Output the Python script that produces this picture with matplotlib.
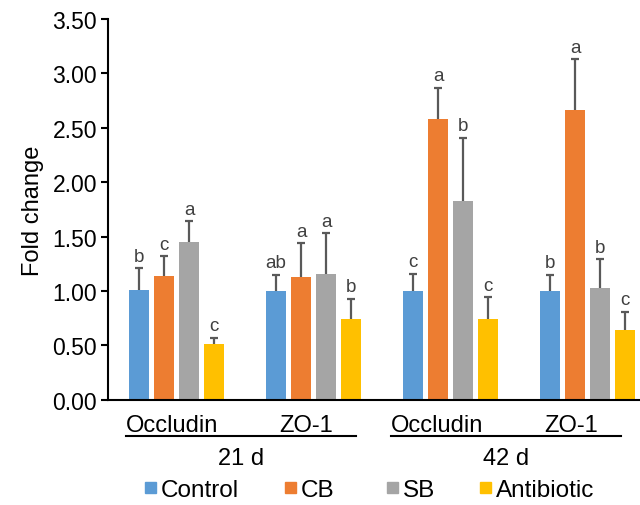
import matplotlib
matplotlib.use('Agg')
import matplotlib.pyplot as plt
from matplotlib.patches import Rectangle
import numpy as np

plt.rcParams['font.family'] = ['Liberation Sans', 'DejaVu Sans']

# data
genes = ['Occludin', 'ZO-1', 'Occludin', 'ZO-1']
ages = ['21 d', '42 d']
series = ['Control', 'CB', 'SB', 'Antibiotic']
colors = ['#5B9BD5', '#ED7D31', '#A5A5A5', '#FFC000']

control = [1.01, 1.00, 1.00, 1.00]
cb = [1.14, 1.13, 2.58, 2.66]
sb = [1.45, 1.16, 1.83, 1.03]
antibiotic = [0.51, 0.74, 0.74, 0.64]

control_err = [0.20, 0.15, 0.16, 0.15]
cb_err = [0.18, 0.31, 0.29, 0.47]
sb_err = [0.19, 0.37, 0.58, 0.26]
antibiotic_err = [0.06, 0.19, 0.20, 0.17]

control_sig = ['b', 'ab', 'c', 'b']
cb_sig = ['c', 'a', 'a', 'a']
sb_sig = ['a', 'a', 'b', 'b']
antibiotic_sig = ['c', 'b', 'c', 'c']

values = [control, cb, sb, antibiotic]
errors = [control_err, cb_err, sb_err, antibiotic_err]
letters = [control_sig, cb_sig, sb_sig, antibiotic_sig]

W, H = 640, 506
fig = plt.figure(figsize=(W / 100, H / 100), dpi=100)
ax = fig.add_axes([108 / W, 1 - 400.7 / H, 532 / W, 380.7 / H])

x = np.arange(len(genes))
pitch = 25 / 137
width = 20 / 137
for i, (vals, errs, sig) in enumerate(zip(values, errors, letters)):
    pos = x + (i - 1.5) * pitch
    ax.bar(pos, vals, width=width, color=colors[i], zorder=2)
    eb = ax.errorbar(pos, vals, yerr=[np.zeros(len(vals)), errs], fmt='none',
                     ecolor='#595959', elinewidth=1.6, capsize=2.6, capthick=1.6, zorder=3)
    eb[1][0].set_visible(False)  # no cap at the bar top
    for p, v, e, s in zip(pos, vals, errs, sig):
        ax.text(p, v + e + 0.03, s, ha='center', va='bottom', fontsize=13.5, color='#404040')

ax.set_xlim(-0.5, 3.38)
ax.set_ylim(0, 3.5)
ax.set_yticks(np.arange(0, 3.51, 0.5))
ax.set_yticklabels(['{:.2f}'.format(t) for t in np.arange(0, 3.51, 0.5)], fontsize=16.5)
ax.set_xticks([])
ax.spines['top'].set_visible(False)
ax.spines['right'].set_visible(False)
for s in ['left', 'bottom']:
    ax.spines[s].set_linewidth(1.5)
ax.tick_params(axis='y', length=5, width=1.5, pad=3)
ax.set_ylabel('Fold change', fontsize=17, labelpad=6)

# group labels below the axis (pixel positions from the reference)
gene_x = [171.7, 305.8, 437.5, 570.8]
for gx, g in zip(gene_x, genes):
    fig.text(gx / W, 1 - 431.7 / H, g, ha='center', va='baseline', fontsize=17)
for (x0, x1), a in zip([(126, 356), (391, 621)], ages):
    fig.add_artist(plt.Line2D([x0 / W, x1 / W], [1 - 437.3 / H] * 2, color='black', lw=1.5))
    fig.text((x0 + x1) / 2 / W, 1 - 465 / H, a, ha='center', va='baseline', fontsize=17)

# legend row
leg_x = [145, 285, 387, 480]
for lx, name, c in zip(leg_x, series, colors):
    fig.add_artist(Rectangle((lx / W, 1 - 494 / H), 11 / W, 11 / H, color=c,
                             transform=fig.transFigure))
    fig.text((lx + 16) / W, 1 - 496.7 / H, name, ha='left', va='baseline', fontsize=17.5)

fig.savefig('out.png', dpi=100)
